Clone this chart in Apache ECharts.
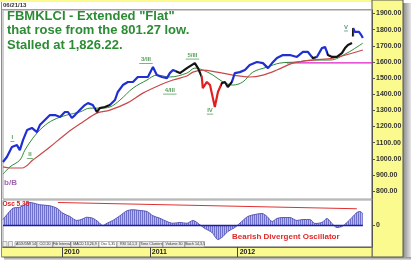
<!DOCTYPE html>
<html><head><meta charset="utf-8">
<script src="https://cdn.jsdelivr.net/npm/echarts@6/dist/echarts.min.js"></script>
<style>html,body{margin:0;padding:0;background:#fff}#c{width:411px;height:260px}</style>
</head><body><div id="c"></div>
<script>
// ---------------- DATA ----------------
const priceDates = ['2009-05-01','2009-05-17','2009-06-07','2009-06-28','2009-07-10','2009-07-23','2009-08-09','2009-08-29','2009-09-19','2009-10-01','2009-10-22','2009-11-12','2009-12-03','2009-12-24','2010-01-13','2010-01-26','2010-02-11','2010-02-24','2010-03-16','2010-04-06','2010-04-19','2010-05-09','2010-05-26','2010-06-07','2010-06-28','2010-07-19','2010-08-09','2010-08-21','2010-09-11','2010-10-02','2010-10-23','2010-11-12','2010-12-03','2010-12-24','2011-01-14','2011-01-30','2011-02-20','2011-03-13','2011-03-25','2011-04-07','2011-05-06','2011-06-04','2011-07-07','2011-07-20','2011-08-05','2011-08-09','2011-08-26','2011-09-08','2011-09-20','2011-09-28','2011-10-11','2011-10-27','2011-11-09','2011-11-21','2011-12-08','2011-12-20','2012-01-10','2012-01-31','2012-02-20','2012-03-21','2012-04-15','2012-05-06','2012-05-23','2012-06-12','2012-07-07','2012-08-05','2012-09-03','2012-09-28','2012-10-19','2012-11-08','2012-11-25','2012-12-16','2012-12-29','2013-01-10','2013-01-27','2013-02-16','2013-03-09','2013-03-22','2013-04-03','2013-04-20','2013-04-22','2013-04-24','2013-04-25','2013-05-02','2013-05-10','2013-05-19','2013-05-27','2013-06-04'];
const priceValues = [980,1011,1073,1085,1054,1116,1178,1191,1166,1209,1240,1271,1271,1259,1290,1290,1253,1271,1302,1333,1345,1333,1290,1314,1321,1333,1364,1414,1457,1476,1476,1507,1507,1507,1569,1519,1507,1500,1531,1550,1531,1562,1593,1562,1507,1438,1476,1457,1376,1321,1414,1469,1476,1445,1476,1531,1537,1550,1581,1600,1593,1562,1593,1624,1643,1643,1631,1662,1662,1624,1631,1686,1693,1643,1631,1631,1655,1686,1705,1717,null,1758,1810,1786,1780,1786,1770,1749];

// trend state of the price bars (up = blue, flat = black, down = red)
const trendStarts = ['2009-05-01','2010-05-20','2010-07-19','2011-04-20','2011-08-03','2011-10-22','2011-12-10','2012-11-05','2012-11-22','2013-01-05','2013-04-22'];
const trendKinds  = ['up','flat','up','flat','down','flat','up','flat','up','flat','up'];

const fastMaDates = ['2009-05-01','2009-05-30','2009-07-10','2009-07-31','2009-09-02','2009-10-14','2009-11-25','2010-01-21','2010-03-16','2010-04-27','2010-06-07','2010-07-19','2010-08-30','2010-10-23','2010-12-20','2011-01-30','2011-03-25','2011-06-04','2011-07-07','2011-08-09','2011-09-20','2011-11-01','2011-12-12','2012-01-22','2012-03-04','2012-05-02','2012-06-24','2012-09-03','2012-11-08','2013-01-19','2013-03-30','2013-06-04'];
const fastMaValues = [905,950,992,1054,1128,1197,1240,1271,1290,1314,1314,1321,1364,1438,1488,1519,1507,1531,1562,1550,1519,1476,1457,1476,1537,1568,1593,1600,1612,1612,1655,1717];

const slowMaDates = ['2009-05-01','2009-05-30','2009-07-19','2009-09-02','2009-11-12','2010-01-21','2010-03-29','2010-05-26','2010-07-19','2010-09-28','2010-12-03','2011-02-12','2011-04-07','2011-06-04','2011-06-29','2011-08-09','2011-10-07','2011-12-12','2012-02-20','2012-04-15','2012-06-12','2012-08-17','2012-11-08','2013-01-31','2013-06-04'];
const slowMaValues = [950,943,943,992,1073,1159,1228,1283,1302,1345,1407,1457,1488,1513,1537,1550,1537,1519,1507,1519,1550,1593,1612,1624,1674];

const supportDates = ['2012-07-24','2013-07-12'];
const supportValues = [1595,1595];

const oscDates = ['2009-05-01','2009-05-17','2009-06-11','2009-07-10','2009-08-21','2009-10-01','2009-11-12','2009-12-11','2010-01-05','2010-02-03','2010-03-04','2010-03-25','2010-04-14','2010-05-09','2010-05-30','2010-06-20','2010-07-07','2010-07-31','2010-08-30','2010-09-28','2010-10-23','2010-11-21','2010-12-20','2011-01-14','2011-02-12','2011-03-13','2011-04-07','2011-05-06','2011-06-04','2011-06-29','2011-07-28','2011-08-18','2011-09-16','2011-10-11','2011-11-01','2011-11-21','2011-12-20','2012-01-18','2012-02-12','2012-03-13','2012-04-11','2012-05-02','2012-05-23','2012-06-12','2012-07-07','2012-08-05','2012-09-03','2012-09-28','2012-10-27','2012-11-17','2012-12-16','2013-01-06','2013-01-27','2013-02-16','2013-03-09','2013-03-30','2013-04-20','2013-05-10','2013-05-23','2013-06-04'];
const oscValues = [24,43,69,73,92,83,79,69,49,36,20,25,33,29,16,0,9,20,39,59,63,60,56,39,29,16,9,12,9,20,3,-12,-28,-56,-44,-24,-8,16,36,44,48,36,16,28,32,32,20,24,24,8,12,28,8,-8,-4,12,32,52,56,48];

const divergenceDates = ['2009-12-15','2013-05-10'];
const divergenceValues = [92,67];

const priceTicks = [800,900,1000,1100,1200,1300,1400,1500,1600,1700,1800,1900];
const oscTicks = [0];
const yearTicks = ['2010-01-01','2011-01-01','2012-01-01'];
const axisStart = '2009-05-01';
const axisEnd = '2013-07-12';

const waveNames  = ['I','II','3/III','4/III','5/III','IV','V','b/B'];
const waveDates  = ['2009-06-09','2009-08-21','2010-12-16','2011-03-25','2011-06-27','2011-09-08','2013-03-26','2009-06-01'];
const waveValues = [1107,1002,1590,1401,1618,1277,1792,850];

const titleLines = ['FBMKLCI - Extended "Flat"','that rose from the 801.27 low.','Stalled at 1,826.22.'];
const chartDate = '06/21/13';
const oscName = 'Osc 5.35';
const oscNote = 'Bearish Divergent Oscillator';
const tabLabels = ['ADX/DMI 14','CCI 20','Fib Interval','MACD 13,26,9','Osc 5,35','RSI 14,1,3','Time Clusters','Volume 30','Stoch 14,3,5'];

// ---------------- CHART ----------------
const FONT = '"Liberation Sans", Arial, sans-serif';
const YELLOW = '#fafa8e';
const ts = s => { const p = s.split('-').map(Number); return new Date(p[0], p[1] - 1, p[2]).getTime(); };
const zip = (a, b) => a.map((d, i) => [ts(d), b[i] === null ? '-' : b[i]]);
const trendColor = { up: '#1f2fd2', flat: '#141414', down: '#e02020' };

const pieces = trendStarts.map((s, i) => {
  const p = { color: trendColor[trendKinds[i]] };
  if (i > 0) p.gte = ts(s);
  if (i < trendStarts.length - 1) p.lt = ts(trendStarts[i + 1]);
  return p;
});

// hatched fill for the oscillator histogram
const hatch = document.createElement('canvas');
hatch.width = 2; hatch.height = 4;
(function () {
  const g = hatch.getContext('2d');
  g.fillStyle = '#b6b8ef'; g.fillRect(0, 0, 2, 4);
  g.fillStyle = '#6e70cc'; g.fillRect(0, 0, 1, 4);
})();

const tabEdges = [15,37,53,71,99,117,140,163,185,205];
const tabGraphics = [];
tabGraphics.push({type:'rect', shape:{x:3,y:241.5,width:4,height:5}, style:{fill:'#eee', stroke:'#888', lineWidth:0.6}, z:10});
tabGraphics.push({type:'rect', shape:{x:8.5,y:241.5,width:4,height:5}, style:{fill:'#eee', stroke:'#888', lineWidth:0.6}, z:10});
tabLabels.forEach((t, i) => {
  const x0 = tabEdges[i], x1 = tabEdges[i + 1] !== undefined ? tabEdges[i + 1] : x0 + 20;
  tabGraphics.push({type:'rect', shape:{x:x0,y:241.5,width:x1 - x0 - 0.5,height:5.5}, style:{fill: t.startsWith('Osc') ? '#fff' : '#ececec', stroke:'#888', lineWidth:0.6}, z:10});
  tabGraphics.push({type:'text', x:(x0 + x1) / 2, y:244.3, style:{text:t, fontSize:3.6, fontFamily:FONT, fill:'#333', align:'center', verticalAlign:'middle'}, z:11});
});

const xMin = ts(axisStart), xMax = ts(axisEnd);
const yearVals = yearTicks.map(ts);

const chart = echarts.init(document.getElementById('c'), null, {renderer:'canvas', width:411, height:260});
chart.setOption({
  animation: false,
  backgroundColor: '#ffffff',
  title: {
    text: titleLines.join('\n'), left: 7, top: 9, padding: 0,
    textStyle: {fontFamily: FONT, fontSize: 13, fontWeight: 'bold', color: '#2c8c34', lineHeight: 14.5}
  },
  grid: [
    {left: 3, right: 39, top: 10, height: 189, show: true, borderColor: '#a0a0a0', borderWidth: 1, backgroundColor: 'transparent'},
    {left: 3, right: 39, top: 200, height: 47, show: true, borderColor: '#a0a0a0', borderWidth: 1, backgroundColor: 'transparent'}
  ],
  xAxis: [
    {type:'value', gridIndex:0, min:xMin, max:xMax, axisLine:{show:false}, axisTick:{show:false}, axisLabel:{show:false}, splitLine:{show:false}},
    {type:'value', gridIndex:1, min:xMin, max:xMax,
      axisLine:{show:true, onZero:false, lineStyle:{color:'#666', width:1}},
      axisTick:{show:true, customValues: yearVals, length:10, lineStyle:{color:'#444', width:1}},
      axisLabel:{show:true, customValues: yearVals, formatter: v => String(new Date(v).getFullYear()), align:'left', padding:[0,0,0,2], margin:2, fontSize:7, fontWeight:'bold', fontFamily:FONT, color:'#222'},
      splitLine:{show:false}}
  ],
  yAxis: [
    {type:'value', gridIndex:0, position:'right', min:751, max:1922,
      axisLine:{show:true, lineStyle:{color:'#555', width:1}},
      axisTick:{show:true, customValues: priceTicks, length:3, lineStyle:{color:'#555'}},
      axisLabel:{customValues: priceTicks, formatter: v => Number(v).toFixed(2), margin:4, fontSize:7, fontWeight:'bold', fontFamily:FONT, color:'#333'},
      splitLine:{show:false}},
    {type:'value', gridIndex:1, position:'right', min:-86, max:102,
      axisLine:{show:true, lineStyle:{color:'#555', width:1}},
      axisTick:{show:true, customValues: oscTicks, length:3, lineStyle:{color:'#555'}},
      axisLabel:{customValues: oscTicks, formatter: v => String(Math.round(v)), margin:4, fontSize:7, fontWeight:'bold', fontFamily:FONT, color:'#333'},
      splitLine:{show:false}}
  ],
  visualMap: {type:'piecewise', show:false, seriesIndex:0, dimension:0, pieces: pieces},
  series: [
    {name:'Price', type:'line', xAxisIndex:0, yAxisIndex:0, data: zip(priceDates, priceValues), showSymbol:false, connectNulls:false, lineStyle:{width:2.2}, z:5},
    {name:'MA fast', type:'line', xAxisIndex:0, yAxisIndex:0, data: zip(fastMaDates, fastMaValues), showSymbol:false, smooth:0.35, lineStyle:{width:1, color:'#2f8a36'}, itemStyle:{color:'#2f8a36'}, z:3},
    {name:'MA slow', type:'line', xAxisIndex:0, yAxisIndex:0, data: zip(slowMaDates, slowMaValues), showSymbol:false, smooth:0.35, lineStyle:{width:1.2, color:'#c8484a'}, itemStyle:{color:'#c8484a'}, z:3},
    {name:'Support', type:'line', xAxisIndex:0, yAxisIndex:0, data: zip(supportDates, supportValues), showSymbol:false, lineStyle:{width:1.2, color:'#e020c8'}, itemStyle:{color:'#e020c8'}, z:2},
    {name:'Waves', type:'scatter', xAxisIndex:0, yAxisIndex:0, z:8,
      data: waveNames.map((n, i) => {
        const corrective = n === 'b/B';
        const col = corrective ? '#8a3c9c' : (n === 'V' ? '#2a7a6e' : '#2f8a36');
        return {
          name: n, value: [ts(waveDates[i]), waveValues[i]],
          symbol: 'rect', symbolSize: corrective ? 0 : [n.length * 2.4 + 1.5, 0.8],
          itemStyle: {color: col},
          label: {show:true, formatter: n, position: corrective ? 'inside' : 'top', distance: 0.5,
                  fontSize: corrective ? 8 : 6, fontWeight:'bold', fontFamily: FONT, color: col}
        };
      })},
    {name:'Osc', type:'line', xAxisIndex:1, yAxisIndex:1, data: zip(oscDates, oscValues), showSymbol:false, smooth:0.3,
      lineStyle:{width:1, color:'#5a5ab8'}, areaStyle:{color:{image: hatch, repeat:'repeat'}, opacity:1}, z:3},
    {name:'Zero', type:'line', xAxisIndex:1, yAxisIndex:1, data: zip([oscDates[0], oscDates[oscDates.length - 1]], [0, 0]), showSymbol:false, lineStyle:{width:1.3, color:'#1c1ca8'}, z:5},
    {name:'Divergence', type:'line', xAxisIndex:1, yAxisIndex:1, data: zip(divergenceDates, divergenceValues), showSymbol:false, lineStyle:{width:1.2, color:'#e03030'}, z:6}
  ],
  graphic: [
    {type:'rect', shape:{x:403,y:3,width:8,height:257}, style:{fill:new echarts.graphic.LinearGradient(0,0,1,0,[{offset:0,color:'#8a8a8a'},{offset:1,color:'#e6e6e6'}])}, z:-10, silent:true},
    {type:'rect', shape:{x:4,y:257,width:407,height:3}, style:{fill:new echarts.graphic.LinearGradient(0,0,0,1,[{offset:0,color:'#8a8a8a'},{offset:1,color:'#e0e0e0'}])}, z:-10, silent:true},
    {type:'rect', shape:{x:0,y:0,width:403,height:2}, style:{fill:YELLOW}, z:-5, silent:true},
    {type:'rect', shape:{x:372,y:0,width:31,height:257}, style:{fill:YELLOW, stroke:'#555', lineWidth:1}, z:-5, silent:true},
    {type:'rect', shape:{x:1.5,y:247,width:370.5,height:10}, style:{fill:YELLOW, stroke:'#666', lineWidth:1}, z:-5, silent:true},
    {type:'line', shape:{x1:1.5,y1:2,x2:1.5,y2:257}, style:{stroke:'#8c8c8c', lineWidth:1}, z:-4, silent:true},
    {type:'line', shape:{x1:1.5,y1:9.5,x2:372,y2:9.5}, style:{stroke:'#9a9a9a', lineWidth:1}, z:-4, silent:true},
    {type:'text', x:3, y:2.5, style:{text:chartDate, fontSize:6, fontWeight:'bold', fontFamily:FONT, fill:'#333'}, z:10},
    {type:'text', x:2.5, y:201, style:{text:oscName, fontSize:6.5, fontWeight:'bold', fontFamily:FONT, fill:'#e02020'}, z:10},
    {type:'text', x:232, y:233, style:{text:oscNote, fontSize:8, fontWeight:'bold', fontFamily:FONT, fill:'#e02828'}, z:10}
  ].concat(tabGraphics)
});
</script></body></html>
